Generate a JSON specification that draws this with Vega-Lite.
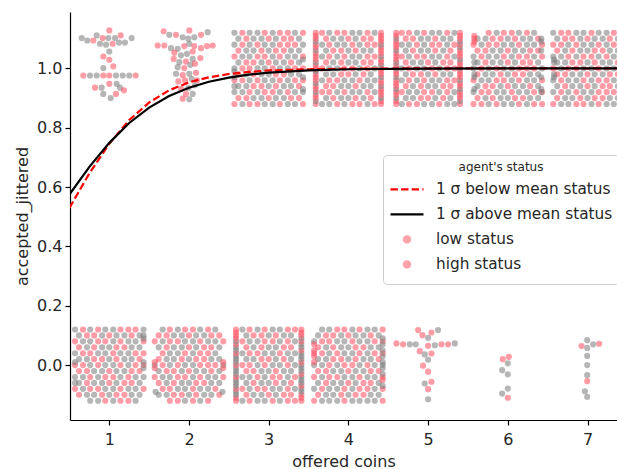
{
"$schema": "https://vega.github.io/schema/vega-lite/v6.json",
"width": 547, "height": 408,
"autosize": {"type": "none"},
"padding": {"left": 70, "top": 12, "right": 0, "bottom": 49},
"background": "white",
"config": {
 "view": {"stroke": null},
 "font": "DejaVu Sans",
 "axis": {"grid": false, "domainColor": "#000000", "tickColor": "#000000", "domainWidth": 1.2, "tickWidth": 1.2, "tickSize": 5, "labelColor": "#262626", "titleColor": "#262626", "labelFontSize": 16, "titleFontSize": 16, "titleFontWeight": "normal"}
},
"layer": [
 {
  "data": {"format": {"type": "csv", "parse": {"x": "number", "y": "number"}},
  "values": "x,y,c\n.76,-.12,g\n.86,-.12,g\n.95,-.12,p\n1.05,-.12,g\n1.14,-.12,p\n1.24,-.12,p\n1.33,-.12,g\n.62,-.1,p\n.72,-.1,g\n.81,-.1,g\n.91,-.1,p\n1,-.1,g\n1.09,-.1,p\n1.19,-.1,p\n1.28,-.1,g\n1.38,-.1,g\n.57,-.08,p\n.67,-.08,g\n.76,-.08,p\n.86,-.08,p\n.95,-.08,g\n1.05,-.08,g\n1.14,-.08,p\n1.24,-.08,g\n1.33,-.08,g\n1.43,-.08,p\n.62,-.06,g\n.72,-.06,p\n.81,-.06,g\n.91,-.06,g\n1,-.06,p\n1.09,-.06,g\n1.19,-.06,p\n1.28,-.06,p\n1.38,-.06,g\n.57,-.04,g\n.67,-.04,g\n.76,-.04,p\n.86,-.04,g\n.95,-.04,p\n1.05,-.04,p\n1.14,-.04,g\n1.24,-.04,p\n1.33,-.04,g\n1.43,-.04,g\n.62,-.02,p\n.72,-.02,p\n.81,-.02,g\n.91,-.02,g\n1,-.02,p\n1.09,-.02,g\n1.19,-.02,g\n1.28,-.02,p\n1.38,-.02,p\n.57,0,p\n.67,0,p\n.76,0,g\n.86,0,p\n.95,0,g\n1.05,0,g\n1.14,0,p\n1.24,0,g\n1.33,0,p\n1.43,0,p\n.62,.02,g\n.72,.02,g\n.81,.02,p\n.91,.02,p\n1,.02,g\n1.09,.02,p\n1.19,.02,g\n1.28,.02,g\n1.38,.02,p\n.57,.04,g\n.67,.04,p\n.76,.04,p\n.86,.04,g\n.95,.04,g\n1.05,.04,p\n1.14,.04,g\n1.24,.04,g\n1.33,.04,p\n1.43,.04,p\n.62,.06,p\n.72,.06,g\n.81,.06,p\n.91,.06,g\n1,.06,g\n1.09,.06,p\n1.19,.06,p\n1.28,.06,g\n1.38,.06,g\n.57,.08,p\n.67,.08,g\n.76,.08,g\n.86,.08,p\n.95,.08,p\n1.05,.08,g\n1.14,.08,p\n1.24,.08,g\n1.33,.08,g\n1.43,.08,p\n.62,.1,g\n.72,.1,p\n.81,.1,p\n.91,.1,g\n1,.1,p\n1.09,.1,g\n1.19,.1,g\n1.28,.1,p\n1.38,.1,g\n.57,.12,g\n.67,.12,p\n.76,.12,g\n.86,.12,p\n.95,.12,g\n1.05,.12,g\n1.14,.12,p\n1.24,.12,p\n1.33,.12,p\n1.43,.12,g\n.57,.01,g\n.57,-.06,g\n1.43,.1,g\n1.43,.09,g\n1.43,.01,g\n1.43,-.01,g\n1.76,-.12,p\n1.86,-.12,p\n1.95,-.12,g\n2.05,-.12,p\n2.14,-.12,g\n2.24,-.12,p\n1.62,-.1,g\n1.72,-.1,g\n1.81,-.1,p\n1.91,-.1,p\n2,-.1,g\n2.09,-.1,p\n2.19,-.1,g\n2.28,-.1,g\n2.38,-.1,p\n1.67,-.08,p\n1.76,-.08,p\n1.86,-.08,g\n1.95,-.08,g\n2.05,-.08,p\n2.14,-.08,g\n2.24,-.08,g\n2.33,-.08,p\n1.62,-.06,p\n1.72,-.06,g\n1.81,-.06,p\n1.91,-.06,g\n2,-.06,g\n2.09,-.06,p\n2.19,-.06,p\n2.28,-.06,g\n2.38,-.06,g\n1.57,-.04,p\n1.67,-.04,g\n1.76,-.04,g\n1.86,-.04,p\n1.95,-.04,p\n2.05,-.04,g\n2.14,-.04,p\n2.24,-.04,g\n2.33,-.04,g\n2.43,-.04,p\n1.62,-.02,g\n1.72,-.02,p\n1.81,-.02,p\n1.91,-.02,g\n2,-.02,p\n2.09,-.02,g\n2.19,-.02,g\n2.28,-.02,p\n2.38,-.02,g\n1.57,0,g\n1.67,0,p\n1.76,0,g\n1.86,0,p\n1.95,0,g\n2.05,0,g\n2.14,0,p\n2.24,0,p\n2.33,0,p\n2.43,0,g\n1.62,.02,p\n1.72,.02,g\n1.81,.02,g\n1.91,.02,p\n2,.02,g\n2.09,.02,p\n2.19,.02,p\n2.28,.02,g\n2.38,.02,g\n1.67,.04,p\n1.76,.04,g\n1.86,.04,g\n1.95,.04,p\n2.05,.04,g\n2.14,.04,p\n2.24,.04,p\n2.33,.04,g\n1.62,.06,g\n1.72,.06,p\n1.81,.06,g\n1.91,.06,g\n2,.06,p\n2.09,.06,g\n2.19,.06,p\n2.28,.06,p\n2.38,.06,g\n1.57,.08,p\n1.67,.08,g\n1.76,.08,p\n1.86,.08,p\n1.95,.08,g\n2.05,.08,g\n2.14,.08,p\n2.24,.08,g\n2.33,.08,g\n2.43,.08,p\n1.62,.1,p\n1.72,.1,p\n1.81,.1,g\n1.91,.1,g\n2,.1,p\n2.09,.1,g\n2.19,.1,g\n2.28,.1,p\n2.38,.1,p\n1.67,.12,g\n1.76,.12,p\n1.86,.12,g\n1.95,.12,p\n2.05,.12,p\n2.14,.12,g\n2.24,.12,p\n2.33,.12,g\n1.57,.01,p\n1.57,-.01,p\n2.43,.01,p\n2.43,-.01,p\n1.58,-.09,g\n2.42,-.09,g\n2.67,-.12,g\n2.76,-.12,p\n2.86,-.12,g\n2.95,-.12,g\n3.05,-.12,p\n3.14,-.12,g\n3.24,-.12,p\n3.33,-.12,p\n2.72,-.1,p\n2.81,-.1,g\n2.91,-.1,g\n3,-.1,p\n3.09,-.1,g\n3.19,-.1,p\n3.28,-.1,p\n2.67,-.08,p\n2.76,-.08,g\n2.86,-.08,p\n2.95,-.08,p\n3.05,-.08,g\n3.14,-.08,g\n3.24,-.08,p\n3.33,-.08,g\n2.72,-.06,g\n2.81,-.06,p\n2.91,-.06,g\n3,-.06,g\n3.09,-.06,p\n3.19,-.06,g\n3.28,-.06,p\n2.67,-.04,g\n2.76,-.04,g\n2.86,-.04,p\n2.95,-.04,g\n3.05,-.04,p\n3.14,-.04,p\n3.24,-.04,g\n3.33,-.04,p\n2.72,-.02,p\n2.81,-.02,p\n2.91,-.02,g\n3,-.02,g\n3.09,-.02,p\n3.19,-.02,g\n3.28,-.02,g\n2.67,0,p\n2.76,0,p\n2.86,0,g\n2.95,0,p\n3.05,0,g\n3.14,0,g\n3.24,0,p\n3.33,0,g\n2.72,.02,g\n2.81,.02,g\n2.91,.02,p\n3,.02,p\n3.09,.02,g\n3.19,.02,p\n3.28,.02,g\n2.67,.04,g\n2.76,.04,p\n2.86,.04,p\n2.95,.04,g\n3.05,.04,g\n3.14,.04,p\n3.24,.04,g\n3.33,.04,g\n2.72,.06,p\n2.81,.06,g\n2.91,.06,p\n3,.06,g\n3.09,.06,g\n3.19,.06,p\n3.28,.06,p\n2.67,.08,p\n2.76,.08,g\n2.86,.08,g\n2.95,.08,p\n3.05,.08,p\n3.14,.08,g\n3.24,.08,p\n3.33,.08,g\n2.72,.1,g\n2.81,.1,p\n2.91,.1,p\n3,.1,g\n3.09,.1,p\n3.19,.1,g\n3.28,.1,g\n2.67,.12,g\n2.76,.12,p\n2.86,.12,g\n2.95,.12,p\n3.05,.12,g\n3.14,.12,g\n3.24,.12,p\n3.33,.12,p\n2.59,-.12,p\n2.59,-.11,p\n2.59,-.1,g\n2.59,-.09,g\n2.59,-.08,p\n2.59,-.07,g\n2.59,-.06,g\n2.59,-.05,g\n2.59,-.04,p\n2.59,-.03,g\n2.59,-.02,g\n2.59,-.01,g\n2.59,0,p\n2.59,.01,g\n2.59,.02,g\n2.59,.03,g\n2.59,.04,p\n2.59,.05,g\n2.59,.06,g\n2.59,.07,p\n2.59,.08,g\n2.59,.09,p\n2.59,.1,p\n2.59,.11,p\n2.59,.12,p\n3.41,-.12,p\n3.41,-.11,p\n3.41,-.1,p\n3.41,-.09,g\n3.41,-.08,g\n3.41,-.07,p\n3.41,-.06,g\n3.41,-.05,g\n3.41,-.04,g\n3.41,-.03,p\n3.41,-.02,g\n3.41,-.01,g\n3.41,0,g\n3.41,.01,p\n3.41,.02,g\n3.41,.03,g\n3.41,.04,g\n3.41,.05,p\n3.41,.06,g\n3.41,.07,g\n3.41,.08,p\n3.41,.09,g\n3.41,.1,p\n3.41,.11,p\n3.41,.12,p\n3.57,-.12,p\n3.67,-.12,g\n3.76,-.12,g\n3.86,-.12,g\n3.95,-.12,p\n4.05,-.12,g\n4.14,-.12,g\n4.24,-.12,g\n4.33,-.12,g\n4.43,-.12,p\n3.62,-.1,p\n3.72,-.1,g\n3.81,-.1,g\n3.91,-.1,p\n4,-.1,g\n4.09,-.1,p\n4.19,-.1,p\n4.28,-.1,g\n4.38,-.1,g\n3.57,-.08,g\n3.67,-.08,p\n3.76,-.08,g\n3.86,-.08,g\n3.95,-.08,p\n4.05,-.08,g\n4.14,-.08,p\n4.24,-.08,p\n4.33,-.08,g\n4.43,-.08,p\n3.62,-.06,g\n3.72,-.06,p\n3.81,-.06,g\n3.91,-.06,g\n4,-.06,p\n4.09,-.06,g\n4.19,-.06,p\n4.28,-.06,p\n4.38,-.06,g\n3.57,-.04,p\n3.67,-.04,g\n3.76,-.04,p\n3.86,-.04,p\n3.95,-.04,g\n4.05,-.04,g\n4.14,-.04,p\n4.24,-.04,g\n4.33,-.04,g\n4.43,-.04,p\n3.62,-.02,p\n3.72,-.02,p\n3.81,-.02,g\n3.91,-.02,g\n4,-.02,p\n4.09,-.02,g\n4.19,-.02,g\n4.28,-.02,p\n4.38,-.02,p\n3.57,0,g\n3.67,0,g\n3.76,0,p\n3.86,0,g\n3.95,0,p\n4.05,0,p\n4.14,0,g\n4.24,0,p\n4.33,0,g\n4.43,0,g\n3.62,.02,g\n3.72,.02,g\n3.81,.02,p\n3.91,.02,p\n4,.02,g\n4.09,.02,p\n4.19,.02,g\n4.28,.02,g\n4.38,.02,p\n3.57,.04,p\n3.67,.04,p\n3.76,.04,g\n3.86,.04,p\n3.95,.04,g\n4.05,.04,g\n4.14,.04,p\n4.24,.04,g\n4.33,.04,p\n4.43,.04,p\n3.62,.06,p\n3.72,.06,g\n3.81,.06,p\n3.91,.06,g\n4,.06,g\n4.09,.06,p\n4.19,.06,p\n4.28,.06,g\n4.38,.06,g\n3.57,.08,g\n3.67,.08,p\n3.76,.08,p\n3.86,.08,g\n3.95,.08,g\n4.05,.08,p\n4.14,.08,g\n4.24,.08,g\n4.33,.08,p\n4.43,.08,p\n3.62,.1,g\n3.72,.1,p\n3.81,.1,p\n3.91,.1,g\n4,.1,p\n4.09,.1,g\n4.19,.1,g\n4.28,.1,p\n4.38,.1,g\n3.67,.12,g\n3.76,.12,g\n3.86,.12,p\n3.95,.12,p\n4.05,.12,g\n4.14,.12,p\n4.24,.12,g\n4.33,.12,g\n4.43,.12,p\n4.43,.09,g\n4.43,.07,g\n4.43,.05,g\n4.43,.03,g\n4.43,.01,g\n4.43,-.01,g\n4.43,-.03,g\n4.43,-.05,p\n4.43,-.07,g\n3.57,.07,p\n3.57,.05,p\n3.57,.03,p\n3.57,.01,p\n4.875,.118,p\n4.929,.101,p\n5,.092,g\n5.042,.11,p\n5.125,.118,g\n4.603,.073,p\n4.686,.07,p\n4.77,.07,g\n4.845,.07,g\n5,.065,p\n5.084,.067,g\n5.167,.07,p\n5.251,.07,p\n5.335,.073,g\n4.895,.047,p\n4.958,.036,g\n5.042,.039,p\n5,.018,g\n4.937,-.002,p\n5,-.022,p\n4.958,-.062,g\n5.042,-.056,p\n5,-.081,p\n5,-.115,g\n5.937,.02,p\n6.013,.028,p\n6,.006,g\n5.929,-.017,g\n6,-.031,g\n6,-.079,g\n5.929,-.096,g\n6,-.11,p\n6.996,.084,g\n6.925,.064,p\n6.996,.058,g\n7.071,.07,g\n7.146,.072,p\n6.996,.031,g\n6.996,0,g\n6.996,-.034,g\n6.996,-.054,p\n6.967,-.088,g\n6.996,-.107,g\n1,1.128,p\n.842,1.111,g\n.917,1.102,p\n.988,1.102,g\n1.072,1.102,g\n1.143,1.111,p\n.654,1.102,g\n.724,1.094,g\n.8,1.094,p\n.883,1.083,g\n.959,1.08,g\n1.042,1.083,p\n1.122,1.087,g\n1.197,1.087,g\n1.281,1.102,g\n1,1.057,g\n.925,1.04,p\n1,1.029,p\n1.05,1.007,p\n.925,1.001,g\n.674,.976,p\n.758,.976,g\n.842,.976,g\n.925,.976,p\n1,.976,p\n1.084,.976,g\n1.168,.976,g\n1.251,.976,g\n1.331,.976,p\n1,.948,p\n1.092,.948,g\n.82,.935,p\n.904,.935,g\n1.134,.935,g\n1.184,.926,p\n.925,.914,g\n1.084,.914,p\n1.017,.9,g\n1.682,1.125,p\n1.753,1.113,g\n1.837,1.113,p\n1.921,1.105,g\n2.004,1.128,p\n1.992,1.1,g\n2.067,1.105,g\n2.151,1.113,p\n2.234,1.122,g\n1.607,1.077,p\n1.69,1.077,p\n1.774,1.068,g\n1.858,1.066,g\n1.941,1.075,p\n2.004,1.083,g\n2.067,1.075,p\n2.151,1.068,p\n2.226,1.075,p\n2.297,1.077,p\n1.816,1.053,p\n1.9,1.044,g\n1.975,1.049,g\n2.046,1.057,p\n1.808,1.032,p\n1.879,1.021,g\n1.962,1.023,p\n2.046,1.032,g\n2.142,1.035,p\n1.858,1.004,g\n1.941,1.001,p\n2.017,1.012,g\n2.075,1.016,p\n1.837,.982,g\n1.921,.977,p\n2.004,.982,g\n2.088,.985,p\n1.866,.956,p\n1.95,.96,p\n2.033,.965,g\n2.1,.96,p\n1.9,.931,p\n1.992,.934,g\n2.075,.943,g\n1.962,.914,p\n2.046,.914,g\n1.921,.898,p\n2.004,.896,g\n2.57,.88,p\n2.67,.88,g\n2.76,.88,p\n2.86,.88,p\n2.95,.88,g\n3.05,.88,g\n3.14,.88,p\n3.24,.88,g\n3.33,.88,g\n3.43,.88,p\n2.62,.9,p\n2.72,.9,p\n2.81,.9,g\n2.91,.9,g\n3,.9,p\n3.09,.9,g\n3.19,.9,g\n3.28,.9,p\n3.38,.9,p\n2.57,.92,g\n2.67,.92,g\n2.76,.92,p\n2.86,.92,g\n2.95,.92,p\n3.05,.92,p\n3.14,.92,g\n3.24,.92,p\n3.33,.92,g\n3.43,.92,g\n2.62,.94,g\n2.72,.94,g\n2.81,.94,p\n2.91,.94,p\n3,.94,g\n3.09,.94,p\n3.19,.94,g\n3.28,.94,g\n3.38,.94,p\n2.57,.96,p\n2.67,.96,p\n2.76,.96,g\n2.86,.96,p\n2.95,.96,g\n3.05,.96,g\n3.14,.96,p\n3.24,.96,g\n3.33,.96,p\n3.43,.96,p\n2.62,.98,p\n2.72,.98,g\n2.81,.98,p\n2.91,.98,g\n3,.98,g\n3.09,.98,p\n3.19,.98,p\n3.28,.98,g\n3.38,.98,g\n2.57,1,g\n2.67,1,p\n2.76,1,p\n2.86,1,g\n2.95,1,g\n3.05,1,p\n3.14,1,g\n3.24,1,g\n3.33,1,p\n3.43,1,p\n2.62,1.02,g\n2.72,1.02,p\n2.81,1.02,p\n2.91,1.02,g\n3,1.02,p\n3.09,1.02,g\n3.19,1.02,g\n3.28,1.02,p\n3.38,1.02,g\n2.57,1.04,p\n2.67,1.04,g\n2.76,1.04,g\n2.86,1.04,p\n2.95,1.04,p\n3.05,1.04,g\n3.14,1.04,p\n3.24,1.04,g\n3.33,1.04,g\n3.43,1.04,p\n2.62,1.06,p\n2.72,1.06,g\n2.81,1.06,g\n2.91,1.06,p\n3,1.06,g\n3.09,1.06,p\n3.19,1.06,p\n3.28,1.06,g\n3.38,1.06,g\n2.57,1.08,g\n2.67,1.08,p\n2.76,1.08,g\n2.86,1.08,p\n2.95,1.08,g\n3.05,1.08,g\n3.14,1.08,p\n3.24,1.08,p\n3.33,1.08,p\n3.43,1.08,g\n2.62,1.1,g\n2.72,1.1,p\n2.81,1.1,g\n2.91,1.1,g\n3,1.1,p\n3.09,1.1,g\n3.19,1.1,p\n3.28,1.1,p\n3.38,1.1,g\n2.57,1.12,g\n2.67,1.12,p\n2.76,1.12,g\n2.86,1.12,g\n2.95,1.12,p\n3.05,1.12,g\n3.14,1.12,p\n3.24,1.12,p\n3.33,1.12,g\n3.43,1.12,p\n2.57,.99,g\n2.57,.97,g\n2.57,.94,g\n3.43,1.03,g\n3.43,.97,g\n3.43,.93,g\n3.67,.88,g\n3.76,.88,g\n3.86,.88,p\n3.95,.88,g\n4.05,.88,p\n4.14,.88,p\n4.24,.88,g\n4.33,.88,p\n3.72,.9,g\n3.81,.9,p\n3.91,.9,g\n4,.9,g\n4.09,.9,p\n4.19,.9,g\n4.28,.9,p\n3.67,.92,p\n3.76,.92,p\n3.86,.92,g\n3.95,.92,p\n4.05,.92,g\n4.14,.92,g\n4.24,.92,p\n4.33,.92,g\n3.72,.94,p\n3.81,.94,p\n3.91,.94,g\n4,.94,g\n4.09,.94,p\n4.19,.94,g\n4.28,.94,g\n3.67,.96,g\n3.76,.96,p\n3.86,.96,p\n3.95,.96,g\n4.05,.96,g\n4.14,.96,p\n4.24,.96,g\n4.33,.96,g\n3.72,.98,g\n3.81,.98,g\n3.91,.98,p\n4,.98,p\n4.09,.98,g\n4.19,.98,p\n4.28,.98,g\n3.67,1,p\n3.76,1,g\n3.86,1,g\n3.95,1,p\n4.05,1,p\n4.14,1,g\n4.24,1,p\n4.33,1,g\n3.72,1.02,p\n3.81,1.02,g\n3.91,1.02,p\n4,1.02,g\n4.09,1.02,g\n4.19,1.02,p\n4.28,1.02,p\n3.67,1.04,g\n3.76,1.04,p\n3.86,1.04,g\n3.95,1.04,p\n4.05,1.04,g\n4.14,1.04,g\n4.24,1.04,p\n4.33,1.04,p\n3.72,1.06,g\n3.81,1.06,p\n3.91,1.06,p\n4,1.06,g\n4.09,1.06,p\n4.19,1.06,g\n4.28,1.06,g\n3.67,1.08,g\n3.76,1.08,p\n3.86,1.08,g\n3.95,1.08,g\n4.05,1.08,p\n4.14,1.08,g\n4.24,1.08,p\n4.33,1.08,p\n3.72,1.1,p\n3.81,1.1,g\n3.91,1.1,g\n4,1.1,p\n4.09,1.1,g\n4.19,1.1,p\n4.28,1.1,p\n3.67,1.12,p\n3.76,1.12,g\n3.86,1.12,p\n3.95,1.12,p\n4.05,1.12,g\n4.14,1.12,g\n4.24,1.12,p\n4.33,1.12,g\n3.59,.88,p\n3.59,.89,g\n3.59,.9,p\n3.59,.91,p\n3.59,.92,g\n3.59,.93,p\n3.59,.94,p\n3.59,.95,g\n3.59,.96,p\n3.59,.97,p\n3.59,.98,p\n3.59,.99,g\n3.59,1,p\n3.59,1.01,p\n3.59,1.02,g\n3.59,1.03,p\n3.59,1.04,p\n3.59,1.05,p\n3.59,1.06,g\n3.59,1.07,p\n3.59,1.08,p\n3.59,1.09,g\n3.59,1.1,p\n3.59,1.11,p\n3.59,1.12,p\n4.41,.88,p\n4.41,.89,p\n4.41,.9,g\n4.41,.91,p\n4.41,.92,p\n4.41,.93,p\n4.41,.94,g\n4.41,.95,p\n4.41,.96,p\n4.41,.97,g\n4.41,.98,p\n4.41,.99,p\n4.41,1,p\n4.41,1.01,g\n4.41,1.02,p\n4.41,1.03,p\n4.41,1.04,g\n4.41,1.05,p\n4.41,1.06,p\n4.41,1.07,p\n4.41,1.08,g\n4.41,1.09,p\n4.41,1.1,p\n4.41,1.11,p\n4.41,1.12,p\n4.67,.88,g\n4.76,.88,p\n4.86,.88,p\n4.95,.88,g\n5.05,.88,g\n5.14,.88,p\n5.24,.88,g\n5.33,.88,g\n4.72,.9,g\n4.81,.9,g\n4.91,.9,p\n5,.9,p\n5.09,.9,g\n5.19,.9,p\n5.28,.9,g\n4.67,.92,p\n4.76,.92,g\n4.86,.92,g\n4.95,.92,p\n5.05,.92,p\n5.14,.92,g\n5.24,.92,p\n5.33,.92,g\n4.72,.94,p\n4.81,.94,g\n4.91,.94,p\n5,.94,g\n5.09,.94,g\n5.19,.94,p\n5.28,.94,p\n4.67,.96,g\n4.76,.96,p\n4.86,.96,g\n4.95,.96,p\n5.05,.96,g\n5.14,.96,g\n5.24,.96,p\n5.33,.96,p\n4.72,.98,g\n4.81,.98,p\n4.91,.98,p\n5,.98,g\n5.09,.98,p\n5.19,.98,g\n5.28,.98,g\n4.67,1,g\n4.76,1,p\n4.86,1,g\n4.95,1,g\n5.05,1,p\n5.14,1,g\n5.24,1,p\n5.33,1,p\n4.72,1.02,p\n4.81,1.02,g\n4.91,1.02,g\n5,1.02,p\n5.09,1.02,g\n5.19,1.02,p\n5.28,1.02,p\n4.67,1.04,p\n4.76,1.04,g\n4.86,1.04,p\n4.95,1.04,p\n5.05,1.04,g\n5.14,1.04,g\n5.24,1.04,p\n5.33,1.04,g\n4.72,1.06,g\n4.81,1.06,p\n4.91,1.06,g\n5,1.06,g\n5.09,1.06,p\n5.19,1.06,g\n5.28,1.06,p\n4.67,1.08,g\n4.76,1.08,g\n4.86,1.08,p\n4.95,1.08,g\n5.05,1.08,p\n5.14,1.08,p\n5.24,1.08,g\n5.33,1.08,p\n4.72,1.1,p\n4.81,1.1,p\n4.91,1.1,g\n5,1.1,g\n5.09,1.1,p\n5.19,1.1,g\n5.28,1.1,g\n4.67,1.12,p\n4.76,1.12,p\n4.86,1.12,g\n4.95,1.12,p\n5.05,1.12,g\n5.14,1.12,g\n5.24,1.12,p\n5.33,1.12,g\n4.6,.88,p\n4.6,.89,p\n4.6,.9,g\n4.6,.91,p\n4.6,.92,p\n4.6,.93,g\n4.6,.94,p\n4.6,.95,p\n4.6,.96,p\n4.6,.97,g\n4.6,.98,p\n4.6,.99,p\n4.6,1,g\n4.6,1.01,p\n4.6,1.02,g\n4.6,1.03,p\n4.6,1.04,p\n4.6,1.05,p\n4.6,1.06,g\n4.6,1.07,p\n4.6,1.08,p\n4.6,1.09,p\n4.6,1.1,g\n4.6,1.11,p\n4.6,1.12,p\n5.4,.88,p\n5.4,.89,g\n5.4,.9,p\n5.4,.91,p\n5.4,.92,p\n5.4,.93,g\n5.4,.94,p\n5.4,.95,p\n5.4,.96,g\n5.4,.97,p\n5.4,.98,p\n5.4,.99,p\n5.4,1,g\n5.4,1.01,p\n5.4,1.02,p\n5.4,1.03,g\n5.4,1.04,p\n5.4,1.05,p\n5.4,1.06,p\n5.4,1.07,g\n5.4,1.08,p\n5.4,1.09,g\n5.4,1.1,p\n5.4,1.11,p\n5.4,1.12,p\n5.57,.88,p\n5.67,.88,p\n5.76,.88,g\n5.86,.88,p\n5.95,.88,g\n6.05,.88,g\n6.14,.88,p\n6.24,.88,g\n6.33,.88,p\n6.43,.88,p\n5.62,.9,p\n5.72,.9,g\n5.81,.9,p\n5.91,.9,g\n6,.9,g\n6.09,.9,p\n6.19,.9,p\n6.28,.9,g\n6.38,.9,g\n5.57,.92,g\n5.67,.92,p\n5.76,.92,p\n5.86,.92,g\n5.95,.92,g\n6.05,.92,p\n6.14,.92,g\n6.24,.92,g\n6.33,.92,p\n6.43,.92,p\n5.62,.94,g\n5.72,.94,p\n5.81,.94,p\n5.91,.94,g\n6,.94,p\n6.09,.94,g\n6.19,.94,g\n6.28,.94,p\n6.38,.94,g\n5.57,.96,p\n5.67,.96,g\n5.76,.96,g\n5.86,.96,p\n5.95,.96,p\n6.05,.96,g\n6.14,.96,p\n6.24,.96,g\n6.33,.96,g\n6.43,.96,p\n5.62,.98,p\n5.72,.98,g\n5.81,.98,g\n5.91,.98,p\n6,.98,g\n6.09,.98,p\n6.19,.98,p\n6.28,.98,g\n6.38,.98,g\n5.57,1,g\n5.67,1,p\n5.76,1,g\n5.86,1,p\n5.95,1,g\n6.05,1,g\n6.14,1,p\n6.24,1,p\n6.33,1,p\n6.43,1,g\n5.62,1.02,g\n5.72,1.02,p\n5.81,1.02,g\n5.91,1.02,g\n6,1.02,p\n6.09,1.02,g\n6.19,1.02,p\n6.28,1.02,p\n6.38,1.02,g\n5.57,1.04,g\n5.67,1.04,p\n5.76,1.04,g\n5.86,1.04,g\n5.95,1.04,p\n6.05,1.04,g\n6.14,1.04,p\n6.24,1.04,p\n6.33,1.04,g\n6.43,1.04,p\n5.62,1.06,p\n5.72,1.06,p\n5.81,1.06,g\n5.91,1.06,g\n6,1.06,p\n6.09,1.06,g\n6.19,1.06,g\n6.28,1.06,p\n6.38,1.06,p\n5.57,1.08,p\n5.67,1.08,g\n5.76,1.08,p\n5.86,1.08,p\n5.95,1.08,g\n6.05,1.08,g\n6.14,1.08,p\n6.24,1.08,g\n6.33,1.08,g\n6.43,1.08,p\n5.62,1.1,g\n5.72,1.1,g\n5.81,1.1,p\n5.91,1.1,p\n6,1.1,g\n6.09,1.1,p\n6.19,1.1,g\n6.28,1.1,g\n6.38,1.1,p\n5.76,1.12,p\n5.86,1.12,g\n5.95,1.12,p\n6.05,1.12,p\n6.14,1.12,g\n6.24,1.12,p\n6.33,1.12,g\n5.58,1.11,p\n5.58,1.1,p\n5.58,1.09,p\n5.58,1.02,g\n5.58,.98,g\n5.58,.97,g\n5.58,.93,g\n6.42,1.1,g\n6.42,1.09,g\n6.42,1.06,g\n6.42,.97,g\n6.42,.93,g\n6.42,.92,g\n6.57,.88,p\n6.67,.88,g\n6.76,.88,g\n6.86,.88,p\n6.95,.88,p\n7.05,.88,g\n7.14,.88,p\n7.24,.88,g\n7.33,.88,g\n6.62,.9,p\n6.72,.9,g\n6.81,.9,g\n6.91,.9,p\n7,.9,g\n7.09,.9,p\n7.19,.9,p\n7.28,.9,g\n7.38,.9,g\n6.57,.92,g\n6.67,.92,p\n6.76,.92,g\n6.86,.92,p\n6.95,.92,g\n7.05,.92,g\n7.14,.92,p\n7.24,.92,p\n7.33,.92,p\n6.62,.94,g\n6.72,.94,p\n6.81,.94,g\n6.91,.94,g\n7,.94,p\n7.09,.94,g\n7.19,.94,p\n7.28,.94,p\n7.38,.94,g\n6.57,.96,g\n6.67,.96,p\n6.76,.96,g\n6.86,.96,g\n6.95,.96,p\n7.05,.96,g\n7.14,.96,p\n7.24,.96,p\n7.33,.96,g\n6.62,.98,p\n6.72,.98,p\n6.81,.98,g\n6.91,.98,g\n7,.98,p\n7.09,.98,g\n7.19,.98,g\n7.28,.98,p\n7.38,.98,p\n6.57,1,p\n6.67,1,g\n6.76,1,p\n6.86,1,p\n6.95,1,g\n7.05,1,g\n7.14,1,p\n7.24,1,g\n7.33,1,g\n6.62,1.02,g\n6.72,1.02,g\n6.81,1.02,p\n6.91,1.02,p\n7,1.02,g\n7.09,1.02,p\n7.19,1.02,g\n7.28,1.02,g\n7.38,1.02,p\n6.57,1.04,g\n6.67,1.04,g\n6.76,1.04,p\n6.86,1.04,g\n6.95,1.04,p\n7.05,1.04,p\n7.14,1.04,g\n7.24,1.04,p\n7.33,1.04,g\n6.62,1.06,p\n6.72,1.06,g\n6.81,1.06,p\n6.91,1.06,g\n7,1.06,g\n7.09,1.06,p\n7.19,1.06,p\n7.28,1.06,g\n7.38,1.06,g\n6.57,1.08,p\n6.67,1.08,p\n6.76,1.08,g\n6.86,1.08,p\n6.95,1.08,g\n7.05,1.08,g\n7.14,1.08,p\n7.24,1.08,g\n7.33,1.08,p\n6.62,1.1,g\n6.72,1.1,p\n6.81,1.1,p\n6.91,1.1,g\n7,1.1,p\n7.09,1.1,g\n7.19,1.1,g\n7.28,1.1,p\n7.38,1.1,g\n6.57,1.12,g\n6.67,1.12,p\n6.76,1.12,p\n6.86,1.12,g\n6.95,1.12,g\n7.05,1.12,p\n7.14,1.12,g\n7.24,1.12,g\n7.33,1.12,p\n6.58,1.03,g\n6.58,1.02,g\n6.58,.98,g\n6.58,.97,g"},
  "mark": {"type": "circle", "size": 38, "opacity": 0.55, "strokeWidth": 0, "clip": true},
  "encoding": {
   "x": {"field": "x", "type": "quantitative", "scale": {"domain": [0.507, 7.37], "nice": false, "zero": false},
    "axis": {"values": [1, 2, 3, 4, 5, 6, 7], "format": "d", "title": "offered coins", "labelPadding": 6, "titlePadding": 6}},
   "y": {"field": "y", "type": "quantitative", "scale": {"domain": [-0.185, 1.19], "nice": false, "zero": false},
    "axis": {"values": [0, 0.2, 0.4, 0.6, 0.8, 1.0], "format": ".1f", "title": "accepted_jittered", "labelPadding": 3, "titlePadding": 6}},
   "fill": {"field": "c", "type": "nominal", "scale": {"domain": ["g", "p"], "range": ["#7a7a7a", "#ff4a5c"]}, "legend": null}
  }
 },
 {
  "data": {"values": [
   {"x": 0.5, "y": 0.530, "s": "1 σ below mean status"},
   {"x": 0.75, "y": 0.646, "s": "1 σ below mean status"},
   {"x": 1.0, "y": 0.746, "s": "1 σ below mean status"},
   {"x": 1.25, "y": 0.826, "s": "1 σ below mean status"},
   {"x": 1.5, "y": 0.885, "s": "1 σ below mean status"},
   {"x": 1.75, "y": 0.926, "s": "1 σ below mean status"},
   {"x": 2.0, "y": 0.953, "s": "1 σ below mean status"},
   {"x": 2.25, "y": 0.970, "s": "1 σ below mean status"},
   {"x": 2.5, "y": 0.981, "s": "1 σ below mean status"},
   {"x": 2.75, "y": 0.988, "s": "1 σ below mean status"},
   {"x": 3.0, "y": 0.993, "s": "1 σ below mean status"},
   {"x": 3.5, "y": 0.997, "s": "1 σ below mean status"},
   {"x": 4.0, "y": 0.999, "s": "1 σ below mean status"},
   {"x": 5.0, "y": 1.0, "s": "1 σ below mean status"},
   {"x": 6.0, "y": 1.0, "s": "1 σ below mean status"},
   {"x": 7.0, "y": 1.0, "s": "1 σ below mean status"},
   {"x": 7.5, "y": 1.0, "s": "1 σ below mean status"}
  ]},
  "mark": {"type": "line", "strokeDash": [7.4, 3.2], "strokeWidth": 2.2, "clip": true},
  "encoding": {
   "x": {"field": "x", "type": "quantitative", "scale": {"domain": [0.507, 7.37], "nice": false, "zero": false}},
   "y": {"field": "y", "type": "quantitative", "scale": {"domain": [-0.185, 1.19], "nice": false, "zero": false}},
   "stroke": {"field": "s", "type": "nominal",
    "scale": {"domain": ["1 σ below mean status", "1 σ above mean status", "low status", "high status"], "range": ["#ff0000", "#000000", "#ffa3aa", "#ffa3aa"]},
    "legend": {"orient": "none", "legendX": 313, "legendY": 143, "title": "agent's status", "titleFontSize": 12, "titleFontWeight": "normal", "titleColor": "#262626", "titleAnchor": "middle", "titlePadding": 3,
     "labelFontSize": 15.3, "labelColor": "#262626", "labelOffset": 11, "labelLimit": 400, "symbolSize": 484, "symbolOffset": -1, "symbolType": "stroke", "symbolStrokeWidth": 2.2, "rowPadding": 0, "clipHeight": 24.7, "padding": 7,
     "fillColor": "#ffffff", "strokeColor": "#cccccc", "cornerRadius": 4,
     "encode": {"symbols": {"update": {
      "shape": {"signal": "indexof(['low status','high status'], datum.value) >= 0 ? 'circle' : 'stroke'"},
      "size": {"signal": "indexof(['low status','high status'], datum.value) >= 0 ? 38 : 1089"},
      "fill": {"signal": "indexof(['low status','high status'], datum.value) >= 0 ? '#ffa3aa' : 'transparent'"},
      "stroke": {"signal": "datum.value == '1 σ below mean status' ? '#ff0000' : (datum.value == '1 σ above mean status' ? '#000000' : 'transparent')"},
      "strokeDash": {"signal": "datum.value == '1 σ below mean status' ? [7.4, 3.2] : [1, 0]"},
      "strokeWidth": {"value": 2.2},
      "opacity": {"value": 1}
     }}}
    }
   }
  }
 },
 {
  "data": {"values": [
   {"x": 0.5, "y": 0.575, "s": "1 σ above mean status"},
   {"x": 0.75, "y": 0.668, "s": "1 σ above mean status"},
   {"x": 1.0, "y": 0.749, "s": "1 σ above mean status"},
   {"x": 1.25, "y": 0.816, "s": "1 σ above mean status"},
   {"x": 1.5, "y": 0.868, "s": "1 σ above mean status"},
   {"x": 1.75, "y": 0.907, "s": "1 σ above mean status"},
   {"x": 2.0, "y": 0.935, "s": "1 σ above mean status"},
   {"x": 2.25, "y": 0.955, "s": "1 σ above mean status"},
   {"x": 2.5, "y": 0.969, "s": "1 σ above mean status"},
   {"x": 2.75, "y": 0.979, "s": "1 σ above mean status"},
   {"x": 3.0, "y": 0.986, "s": "1 σ above mean status"},
   {"x": 3.5, "y": 0.993, "s": "1 σ above mean status"},
   {"x": 4.0, "y": 0.997, "s": "1 σ above mean status"},
   {"x": 5.0, "y": 0.9995, "s": "1 σ above mean status"},
   {"x": 6.0, "y": 1.0, "s": "1 σ above mean status"},
   {"x": 7.0, "y": 1.0, "s": "1 σ above mean status"},
   {"x": 7.5, "y": 1.0, "s": "1 σ above mean status"}
  ]},
  "mark": {"type": "line", "strokeWidth": 2.2, "clip": true},
  "encoding": {
   "x": {"field": "x", "type": "quantitative", "scale": {"domain": [0.507, 7.37], "nice": false, "zero": false}},
   "y": {"field": "y", "type": "quantitative", "scale": {"domain": [-0.185, 1.19], "nice": false, "zero": false}},
   "stroke": {"field": "s", "type": "nominal"}
  }
 }
]
}
